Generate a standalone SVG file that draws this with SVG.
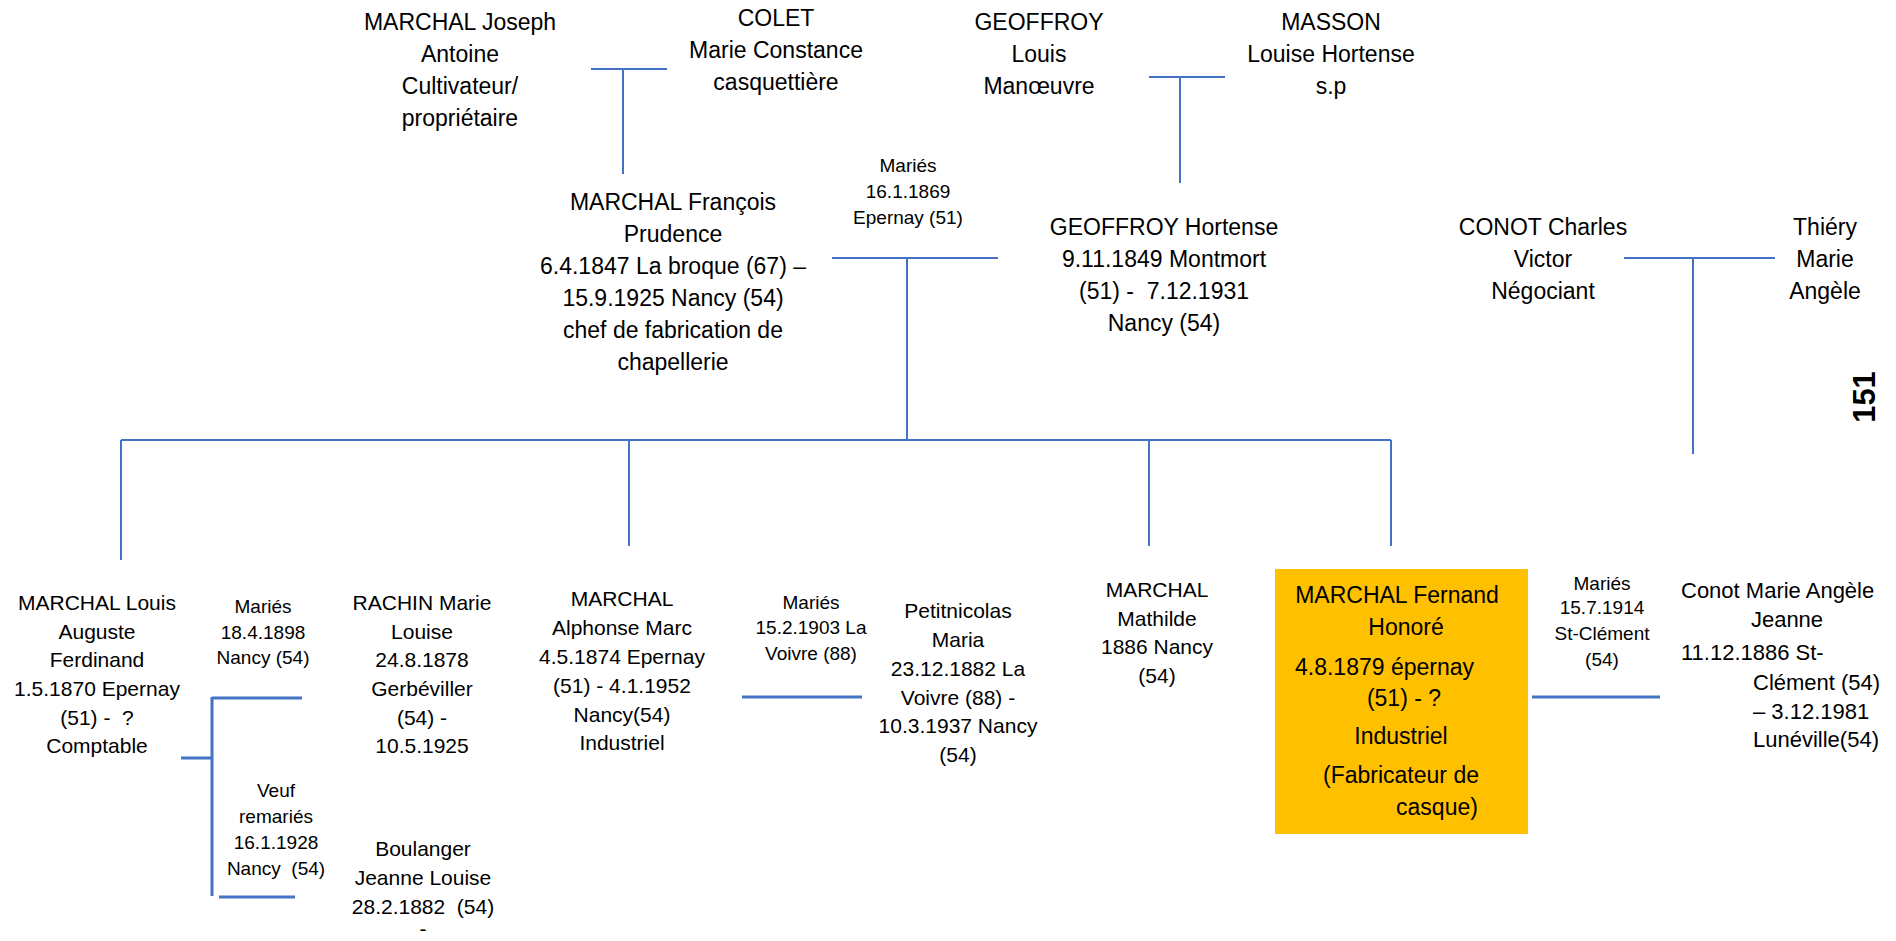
<svg xmlns="http://www.w3.org/2000/svg" width="1896" height="941" viewBox="0 0 1896 941">
<style>
text{font-family:"Liberation Sans",Arial,sans-serif;fill:#000;white-space:pre}
.t{font-size:23px;text-anchor:middle}
.b{font-size:21px;text-anchor:middle}
.m{font-size:19px;text-anchor:middle}
.c{font-size:22px}
.s{text-anchor:start}
.mid{text-anchor:middle}
.ln{stroke:#4472C4;stroke-width:2;fill:none}
.th{stroke-width:3}
.num{font-size:31px;font-weight:bold;text-anchor:middle}
</style>
<rect width="1896" height="941" fill="#fff"/>
<g id="connectors">
<path class="ln" d="M591 69H667M623 69V174"/>
<path class="ln" d="M1149 77H1225M1180 77V183"/>
<path class="ln" d="M832 258H998M907 258V440"/>
<path class="ln" d="M121 440H1391M121 440V560M629 440V546M1149 440V546M1391 440V546"/>
<path class="ln" d="M1624 258H1775M1693 258V454"/>
<path class="ln th" d="M181 758H212M212 697V896M212 698H302M219 897H295"/>
<path class="ln th" d="M742 697H862"/>
<path class="ln th" d="M1532 697H1660"/>
</g>
<g id="joseph">
<text class="t" x="460" y="30">MARCHAL Joseph</text>
<text class="t" x="460" y="62">Antoine</text>
<text class="t" x="460" y="94">Cultivateur/</text>
<text class="t" x="460" y="126">propriétaire</text>
</g>
<g id="colet">
<text class="t" x="776" y="26">COLET</text>
<text class="t" x="776" y="58">Marie Constance</text>
<text class="t" x="776" y="90">casquettière</text>
</g>
<g id="francois">
<text class="t" x="673" y="210">MARCHAL François</text>
<text class="t" x="673" y="242">Prudence</text>
<text class="t" x="673" y="274">6.4.1847 La broque (67) –</text>
<text class="t" x="673" y="306">15.9.1925 Nancy (54)</text>
<text class="t" x="673" y="338">chef de fabrication de</text>
<text class="t" x="673" y="370">chapellerie</text>
</g>
<g id="marriage1869">
<text class="m" x="908" y="172">Mariés</text>
<text class="m" x="908" y="198">16.1.1869</text>
<text class="m" x="908" y="224">Epernay (51)</text>
</g>
<g id="geoffroy-louis">
<text class="t" x="1039" y="30">GEOFFROY</text>
<text class="t" x="1039" y="62">Louis</text>
<text class="t" x="1039" y="94">Manœuvre</text>
</g>
<g id="masson">
<text class="t" x="1331" y="30">MASSON</text>
<text class="t" x="1331" y="62">Louise Hortense</text>
<text class="t" x="1331" y="94">s.p</text>
</g>
<g id="hortense">
<text class="t" x="1164" y="235">GEOFFROY Hortense</text>
<text class="t" x="1164" y="267">9.11.1849 Montmort</text>
<text class="t" x="1164" y="299">(51) -  7.12.1931</text>
<text class="t" x="1164" y="331">Nancy (54)</text>
</g>
<g id="conot-charles">
<text class="t" x="1543" y="235">CONOT Charles</text>
<text class="t" x="1543" y="267">Victor</text>
<text class="t" x="1543" y="299">Négociant</text>
</g>
<g id="thiery">
<text class="t" x="1825" y="235">Thiéry</text>
<text class="t" x="1825" y="267">Marie</text>
<text class="t" x="1825" y="299">Angèle</text>
</g>
<g id="page-number">
<text class="num" transform="translate(1875 397) rotate(-90)">151</text>
</g>
<g id="louis">
<text class="b" x="97" y="610">MARCHAL Louis</text>
<text class="b" x="97" y="639">Auguste</text>
<text class="b" x="97" y="667">Ferdinand</text>
<text class="b" x="97" y="696">1.5.1870 Epernay</text>
<text class="b" x="97" y="725">(51) -  ?</text>
<text class="b" x="97" y="753">Comptable</text>
</g>
<g id="marriage1898">
<text class="m" x="263" y="613">Mariés</text>
<text class="m" x="263" y="639">18.4.1898</text>
<text class="m" x="263" y="664">Nancy (54)</text>
</g>
<g id="rachin">
<text class="b" x="422" y="610">RACHIN Marie</text>
<text class="b" x="422" y="639">Louise</text>
<text class="b" x="422" y="667">24.8.1878</text>
<text class="b" x="422" y="696">Gerbéviller</text>
<text class="b" x="422" y="725">(54) -</text>
<text class="b" x="422" y="753">10.5.1925</text>
</g>
<g id="marriage1928">
<text class="m" x="276" y="797">Veuf</text>
<text class="m" x="276" y="823">remariés</text>
<text class="m" x="276" y="849">16.1.1928</text>
<text class="m" x="276" y="875">Nancy  (54)</text>
</g>
<g id="boulanger">
<text class="b" x="423" y="856">Boulanger</text>
<text class="b" x="423" y="885">Jeanne Louise</text>
<text class="b" x="423" y="914">28.2.1882  (54)</text>
<text class="b" x="423" y="936">-</text>
</g>
<g id="alphonse">
<text class="b" x="622" y="606">MARCHAL</text>
<text class="b" x="622" y="635">Alphonse Marc</text>
<text class="b" x="622" y="664">4.5.1874 Epernay</text>
<text class="b" x="622" y="693">(51) - 4.1.1952</text>
<text class="b" x="622" y="722">Nancy(54)</text>
<text class="b" x="622" y="750">Industriel</text>
</g>
<g id="marriage1903">
<text class="m" x="811" y="609">Mariés</text>
<text class="m" x="811" y="634">15.2.1903 La</text>
<text class="m" x="811" y="660">Voivre (88)</text>
</g>
<g id="petitnicolas">
<text class="b" x="958" y="618">Petitnicolas</text>
<text class="b" x="958" y="647">Maria</text>
<text class="b" x="958" y="676">23.12.1882 La</text>
<text class="b" x="958" y="705">Voivre (88) -</text>
<text class="b" x="958" y="733">10.3.1937 Nancy</text>
<text class="b" x="958" y="762">(54)</text>
</g>
<g id="mathilde">
<text class="b" x="1157" y="597">MARCHAL</text>
<text class="b" x="1157" y="626">Mathilde</text>
<text class="b" x="1157" y="654">1886 Nancy</text>
<text class="b" x="1157" y="683">(54)</text>
</g>
<g id="fernand">
<rect x="1275" y="569" width="253" height="265" fill="#FFC000"/>
<text class="t" x="1397" y="603">MARCHAL Fernand</text>
<text class="t" x="1406" y="635">Honoré</text>
<text class="t s" x="1295" y="675">4.8.1879 épernay</text>
<text class="t" x="1404" y="706">(51) - ?</text>
<text class="t" x="1401" y="744">Industriel</text>
<text class="t" x="1401" y="783">(Fabricateur de</text>
<text class="t" x="1437" y="815">casque)</text>
</g>
<g id="marriage1914">
<text class="m" x="1602" y="590">Mariés</text>
<text class="m" x="1602" y="614">15.7.1914</text>
<text class="m" x="1602" y="640">St-Clément</text>
<text class="m" x="1602" y="666">(54)</text>
</g>
<g id="conot-marie">
<text class="c s" x="1681" y="598">Conot Marie Angèle</text>
<text class="c mid" x="1787" y="627">Jeanne</text>
<text class="c s" x="1681" y="660">11.12.1886 St-</text>
<text class="c s" x="1753" y="690">Clément (54)</text>
<text class="c s" x="1753" y="719">– 3.12.1981</text>
<text class="c s" x="1753" y="747">Lunéville(54)</text>
</g>
</svg>
